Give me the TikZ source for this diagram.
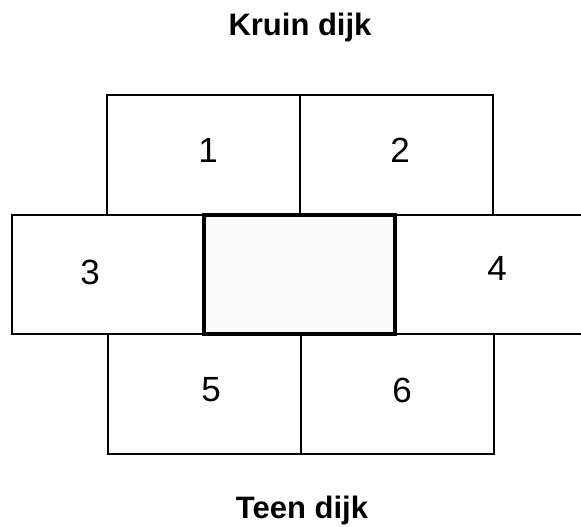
\documentclass[tikz,border=0pt]{standalone}
\usepackage{fontspec}
\setmainfont{Liberation Sans}

\begin{document}
\begin{tikzpicture}[x=1pt,y=-1pt]
% 581 x 527, dijkvak met omliggende vakken
\useasboundingbox (0,0) rectangle (581,527);
\path[draw=black,line width=2pt,line join=miter] (107,95) rectangle (300,215);
\path[draw=black,line width=2pt,line join=miter] (300,95) rectangle (493,215);
\path[draw=black,line width=2pt,line join=miter] (12,215) rectangle (204,334);
\path[draw=black,line width=2pt,line join=miter] (395,215) rectangle (592,334);
\path[draw=black,line width=2pt,line join=miter] (108,334) rectangle (301,454);
\path[draw=black,line width=2pt,line join=miter] (301,334) rectangle (494,454);
\path[fill=black!2,draw=black,line width=3.5pt,line join=miter] (204,215) rectangle (395,334);
\node[anchor=base,font=\bfseries\fontsize{31}{36}\selectfont] (kruin) at (300,36) {Kruin dijk};
\node[anchor=base,font=\bfseries\fontsize{31}{36}\selectfont] (teen) at (302,518) {Teen dijk};
\node[font=\fontsize{35}{40}\selectfont] (vak1) at (208,150) {1};
\node[font=\fontsize{35}{40}\selectfont] (vak2) at (400,150) {2};
\node[font=\fontsize{35}{40}\selectfont] (vak3) at (90,272) {3};
\node[font=\fontsize{35}{40}\selectfont] (vak4) at (497,268) {4};
\node[font=\fontsize{35}{40}\selectfont] (vak5) at (211,390) {5};
\node[font=\fontsize{35}{40}\selectfont] (vak6) at (402,390) {6};
\end{tikzpicture}
\end{document}
